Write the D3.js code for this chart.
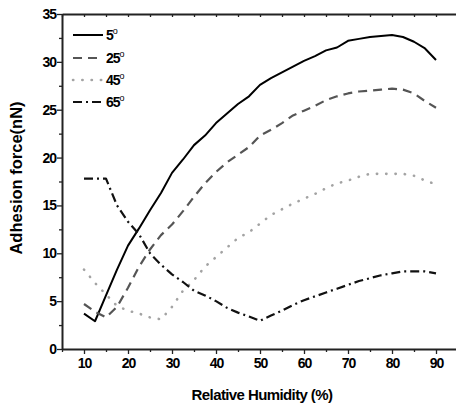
<!DOCTYPE html>
<html>
<head>
<meta charset="utf-8">
<script src="https://cdn.jsdelivr.net/npm/d3@7"></script>
<style>
  body { margin: 0; background: #fff; }
  svg text { font-family: "Liberation Sans", Arial, sans-serif; font-weight: bold; }
</style>
</head>
<body>
<svg id="chart" width="456" height="408"></svg>
<script>
// humidity values (%), shared by all series
const humidity = [10, 12.5, 15, 17.5, 20, 22.5, 25, 27.5, 30, 32.5, 35, 37.5, 40, 42.5, 45, 47.5,
  50, 52.5, 55, 57.5, 60, 62.5, 65, 67.5, 70, 72.5, 75, 77.5, 80, 82.5, 85, 87.5, 90];

// adhesion force (nN) per tilt angle
const force5 = [3.7, 2.9, 5.6, 8.3, 10.8, 12.6, 14.5, 16.3, 18.4, 19.8, 21.3, 22.3, 23.6, 24.6, 25.6, 26.4,
  27.6, 28.3, 28.9, 29.5, 30.1, 30.6, 31.2, 31.5, 32.2, 32.4, 32.6, 32.7, 32.8, 32.6, 32.1, 31.4, 30.2];
const force25 = [4.7, 3.9, 3.3, 4.4, 6.4, 8.6, 10.4, 11.9, 13.0, 14.4, 15.9, 17.3, 18.5, 19.5, 20.3, 21.1,
  22.3, 22.9, 23.6, 24.4, 24.9, 25.4, 26.0, 26.4, 26.7, 26.9, 27.0, 27.1, 27.2, 27.1, 26.7, 25.9, 25.2];
const force45 = [8.3, 6.9, 5.7, 4.5, 4.0, 3.7, 3.3, 3.1, 4.4, 6.1, 7.2, 8.6, 9.6, 10.6, 11.6, 12.2,
  13.1, 14.0, 14.6, 15.2, 15.7, 16.2, 16.8, 17.3, 17.6, 18.0, 18.3, 18.3, 18.3, 18.3, 18.1, 17.6, 17.2];
const force65 = [17.8, 17.8, 17.8, 15.0, 13.3, 12.0, 10.0, 8.8, 7.8, 7.0, 6.1, 5.6, 5.0, 4.3, 3.8, 3.4,
  2.95, 3.5, 4.0, 4.6, 5.1, 5.5, 5.9, 6.3, 6.7, 7.1, 7.4, 7.7, 7.9, 8.1, 8.1, 8.1, 7.9];

const seriesNames = ['5', '25', '45', '65'];
const xTickLabels = [10, 20, 30, 40, 50, 60, 70, 80, 90];
const yTickLabels = [0, 5, 10, 15, 20, 25, 30, 35];

const svg = d3.select('#chart');
const x = d3.scaleLinear().domain([5, 95]).range([62, 458]);
const y = d3.scaleLinear().domain([0, 35]).range([349, 14]);

// line styles for each series
const styles = [
  { color: '#000', width: 2, dash: null, cap: 'butt' },
  { color: '#555', width: 2.2, dash: '9,6', cap: 'butt' },
  { color: '#a3a3a3', width: 2.6, dash: '0.3,9', cap: 'round' },
  { color: '#111', width: 2.2, dash: '9,4,2,4', cap: 'butt' }
];
const allForces = [force5, force25, force45, force65];

// --- axes ---
const yAxis = d3.axisLeft(y)
  .tickValues(d3.range(0, 35.01, 2.5))
  .tickFormat(d => yTickLabels.includes(d) ? d : '')
  .tickSizeOuter(0);
const gy = svg.append('g').attr('transform', 'translate(62,0)').call(yAxis);
gy.selectAll('.tick line').attr('x2', d => d % 5 === 0 ? -5 : -3);

const xAxis = d3.axisBottom(x)
  .tickValues(d3.range(5, 95.01, 5))
  .tickFormat(d => xTickLabels.includes(d) ? d : '')
  .tickSizeOuter(0);
const gx = svg.append('g').attr('transform', 'translate(0,349)').call(xAxis);
gx.selectAll('.tick line').attr('y2', d => d % 10 === 0 ? 5 : 3);

const xTop = d3.axisTop(x).tickValues(d3.range(5, 95.01, 5)).tickFormat('').tickSizeOuter(0).tickSizeInner(-3);
const gt = svg.append('g').attr('transform', 'translate(0,14)').call(xTop);

[gx, gy, gt].forEach(g => {
  g.select('.domain').attr('stroke', '#222').attr('stroke-width', 2);
  g.selectAll('.tick line').attr('stroke', '#222').attr('stroke-width', 1.3);
  g.selectAll('.tick text').attr('fill', '#000')
    .style('font-size', '14px').style('font-weight', 'bold').style('letter-spacing', '-1px');
});
gx.selectAll('.tick text').attr('dy', '0.95em').attr('y', 6);
gy.selectAll('.tick text').attr('x', -6);

// --- titles ---
svg.append('text')
  .attr('x', 262).attr('y', 400)
  .attr('text-anchor', 'middle')
  .style('font-size', '15px').style('letter-spacing', '-0.6px')
  .text('Relative Humidity (%)');
svg.append('text')
  .attr('transform', 'translate(22,178) rotate(-90)')
  .attr('text-anchor', 'middle')
  .style('font-size', '16.5px')
  .text('Adhesion force(nN)');

// --- series ---
const line = d3.line()
  .x((d, i) => x(humidity[i]))
  .y(d => y(d));

allForces.forEach((vals, k) => {
  const s = styles[k];
  svg.append('path')
    .attr('d', line(vals))
    .attr('fill', 'none')
    .attr('stroke', s.color)
    .attr('stroke-width', s.width)
    .attr('stroke-dasharray', s.dash)
    .attr('stroke-linejoin', 'round')
    .attr('stroke-linecap', s.cap);
});

// --- legend ---
const legendRows = [35, 58, 80, 102];
seriesNames.forEach((name, k) => {
  const s = styles[k];
  const ly = legendRows[k];
  svg.append('line')
    .attr('x1', 73).attr('x2', 103).attr('y1', ly).attr('y2', ly)
    .attr('stroke', s.color).attr('stroke-width', s.width)
    .attr('stroke-dasharray', s.dash)
    .attr('stroke-linecap', s.cap);
  const t = svg.append('text')
    .attr('x', 106).attr('y', ly + 5)
    .style('font-size', '14px').style('letter-spacing', '-1px');
  t.append('tspan').text(name);
  t.append('tspan').attr('dy', -6).style('font-size', '9px').style('font-weight', 'normal').text('o');
});
</script>
</body>
</html>
